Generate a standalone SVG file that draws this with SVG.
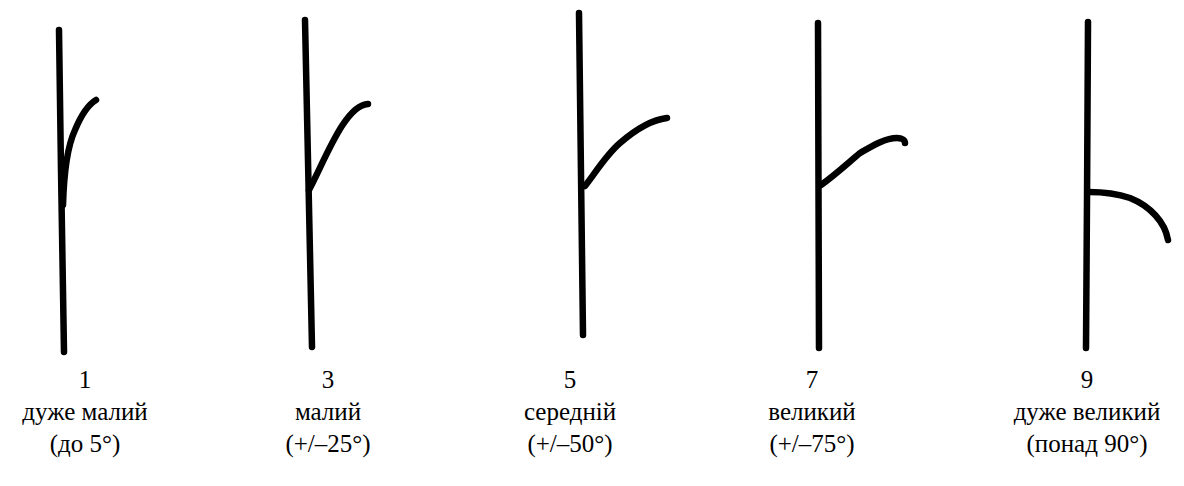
<svg xmlns="http://www.w3.org/2000/svg" width="1184" height="486" viewBox="0 0 1184 486">
<style>
.s{fill:none;stroke:#000;stroke-width:6.5;stroke-linecap:round;stroke-linejoin:round}
.t{font-family:"Liberation Serif","Times New Roman",serif;font-size:25px;fill:#000;text-anchor:middle}
</style>
<rect width="1184" height="486" fill="#fff"/>
<g id="fig1">
<path class="s" d="M59,30 L61,170 L64,352"/>
<path class="s" d="M63,205 C64,170 68,145 75,130 C80,118 86,106 96,100"/>
<text class="t" x="85" y="388">1</text>
<text class="t" x="85" y="420">дуже малий</text>
<text class="t" x="85" y="452">(до 5°)</text>
</g>
<g id="fig3">
<path class="s" d="M305,20 L312,347"/>
<path class="s" d="M309,190 C325,160 345,105 368,104"/>
<text class="t" x="328" y="388">3</text>
<text class="t" x="328" y="420">малий</text>
<text class="t" x="328" y="452">(+/–25°)</text>
</g>
<g id="fig5">
<path class="s" d="M579,13 L583,335"/>
<path class="s" d="M585,186 C596,172 606,155 620,143 C635,130 650,120 667,118"/>
<text class="t" x="570" y="388">5</text>
<text class="t" x="570" y="420">середній</text>
<text class="t" x="570" y="452">(+/–50°)</text>
</g>
<g id="fig7">
<path class="s" d="M818,23 L819,348"/>
<path class="s" d="M821,185 C835,175 848,163 860,153 C872,146 885,138 897,138 C902,138 905,140 905,143"/>
<text class="t" x="812" y="388">7</text>
<text class="t" x="812" y="420">великий</text>
<text class="t" x="812" y="452">(+/–75°)</text>
</g>
<g id="fig9">
<path class="s" d="M1088,22 L1087,200 L1086,348"/>
<path class="s" d="M1089,192 C1100,192 1115,193 1130,198 C1150,206 1165,222 1168,240"/>
<text class="t" x="1087" y="388">9</text>
<text class="t" x="1087" y="420">дуже великий</text>
<text class="t" x="1087" y="452">(понад 90°)</text>
</g>
</svg>
